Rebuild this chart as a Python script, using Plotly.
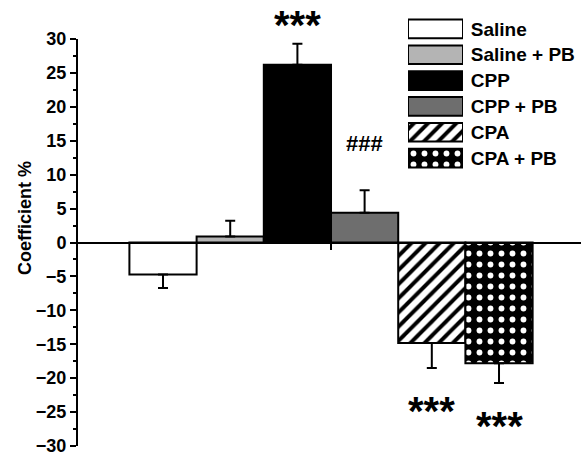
import plotly.graph_objects as go

groups = ["Saline", "Saline + PB", "CPP", "CPP + PB", "CPA", "CPA + PB"]
means = [-4.7, 0.9, 26.2, 4.4, -14.8, -17.8]
sems = [2.0, 2.3, 3.1, 3.3, 3.7, 2.9]
fills = ["white", "#b4b4b4", "black", "#6e6e6e", "white", "black"]
patterns = ["", "", "", "", "/", "."]
marks = ["", "", "***", "###", "***", "***"]
mark_shift = [0, 0, 19, 47, -43, -43]

FONT = "Liberation Sans, Arial, sans-serif"


def pattern(p):
    d = dict(shape=p)
    if p == "/":
        d.update(fgcolor="black", bgcolor="white", size=10, solidity=0.4, fgopacity=1)
    elif p == ".":
        d.update(fgcolor="white", bgcolor="black", size=11, solidity=0.22, fgopacity=1)
    return d


fig = go.Figure()
for i, g in enumerate(groups):
    up = sems[i] if means[i] >= 0 else 0
    down = sems[i] if means[i] < 0 else 0
    fig.add_trace(go.Bar(
        x=[i], y=[means[i]], name=g, width=1, showlegend=False,
        marker=dict(color=fills[i], line=dict(color="black", width=2), pattern=pattern(patterns[i])),
        error_y=dict(type="data", symmetric=False, array=[up], arrayminus=[down],
                     color="black", thickness=2, width=5),
        xaxis="x", yaxis="y",
    ))
    # legend key box
    fig.add_trace(go.Bar(
        x=[1], y=[i], base=0, orientation="h", width=0.72, showlegend=False,
        marker=dict(color=fills[i], line=dict(color="black", width=2), pattern=pattern(patterns[i])),
        xaxis="x2", yaxis="y2", hoverinfo="skip",
    ))

for i, m in enumerate(marks):
    if m:
        tip = means[i] + sems[i] if means[i] >= 0 else means[i] - sems[i]
        fig.add_annotation(x=i, y=tip, xref="x", yref="y", text="<b>" + m + "</b>",
                           showarrow=False, yshift=mark_shift[i],
                           font=dict(family=FONT, size=40 if m == "***" else 22, color="black"))

fig.add_annotation(x=-(78 - 25) / 503, y=(446 - 218) / 436, xref="paper", yref="paper",
                   text="<b>Coefficient %</b>", textangle=-90, showarrow=False,
                   xanchor="center", yanchor="middle",
                   font=dict(family=FONT, size=18, color="black"))

fig.update_layout(
    width=583, height=454,
    margin=dict(l=78, r=2, t=10, b=8, autoexpand=False),
    paper_bgcolor="white", plot_bgcolor="white",
    barmode="overlay",
    font=dict(family=FONT, color="black"),
    showlegend=False,
    xaxis=dict(range=[-1.265, 6.22], anchor="free", position=(446 - 243.3) / 436,
               showline=True, linecolor="black", linewidth=2,
               ticks="outside", tickvals=[2.5], ticklen=6, tickwidth=2, tickcolor="black",
               showticklabels=False, showgrid=False, zeroline=False),
    yaxis=dict(range=[-30, 30], dtick=5, tick0=0, domain=[0, (446 - 39) / 436],
               showline=True, linecolor="black", linewidth=2,
               ticks="outside", ticklen=6, tickwidth=2, tickcolor="black",
               minor=dict(dtick=2.5, ticks="outside", ticklen=3, tickwidth=2, tickcolor="black"),
               tickfont=dict(family=FONT, size=18, color="black", weight="bold"),
               ticklabeloverflow="allow",
               showgrid=False, zeroline=False),
    xaxis2=dict(domain=[(408 - 78) / 503, (463 - 78) / 503], range=[0, 1], anchor="y2",
                showline=False, showticklabels=False, showgrid=False, zeroline=False, fixedrange=True),
    yaxis2=dict(domain=[(446 - 171) / 436, (446 - 16) / 436], range=[5.5, -0.5], anchor="x2",
                side="right", tickvals=list(range(len(groups))), ticktext=groups,
                ticks="outside", ticklen=3, tickcolor="rgba(0,0,0,0)",
                tickfont=dict(family=FONT, size=19, color="black", weight="bold"),
                ticklabeloverflow="allow",
                showline=False, showgrid=False, zeroline=False, fixedrange=True),
)

fig.write_html("out.html", config={"displayModeBar": False},
               post_script="document.body.style.margin='0';document.body.style.overflow='hidden';")
